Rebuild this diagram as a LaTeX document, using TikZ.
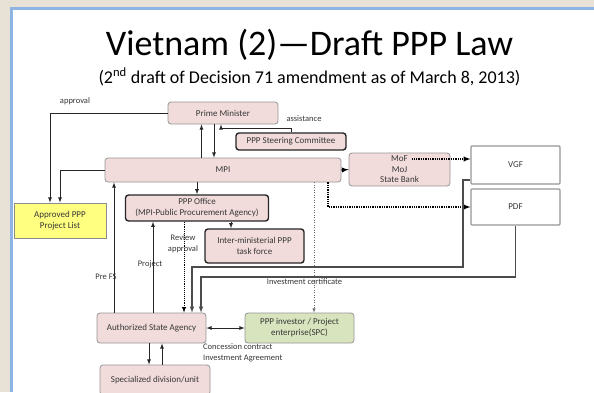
\documentclass[tikz,border=0pt]{standalone}
\usepackage{fontspec}
\setmainfont{Carlito}
\definecolor{boxpink}{RGB}{242,220,219}
\definecolor{listyellow}{RGB}{255,255,128}
\definecolor{spcgreen}{RGB}{215,228,189}
\definecolor{slideblue}{RGB}{142,180,227}
\definecolor{marble}{RGB}{232,226,214}
\definecolor{boxline}{RGB}{150,150,150}
\definecolor{txt}{RGB}{55,55,55}

\begin{document}
\begin{tikzpicture}[x=1pt, y=-1pt,
    box/.style={draw=boxline, line width=0.8pt, fill=boxpink, rounded corners=3pt, text=txt,
                font=\fontsize{9}{11}\selectfont, align=center, inner sep=0pt},
    boldbox/.style={box, draw=black!85, line width=1.4pt},
    fundbox/.style={box, fill=white, rounded corners=1pt, line width=1.2pt},
    lbl/.style={text=txt, font=\fontsize{8.5}{11}\selectfont, inner sep=0pt},
    arr/.style={->, >=latex, line width=0.8pt, black!85},
    dotarr/.style={->, >=latex, densely dotted, line width=1.3pt},
    thindot/.style={->, >=latex, dotted, black!60, line width=0.5pt},
    fundarr/.style={->, >=latex, line width=1.1pt, black!70}]
    \useasboundingbox (0,0) rectangle (594,392);
    \fill[marble] (0,0) rectangle (594,392);
    \fill[white] (10,7) rectangle (594,392);
    \draw[slideblue, line width=3pt] (11.5,392) -- (11.5,8.5) -- (594,8.5);
    % title
    \node[anchor=base] (title) at (309.5,55) {\fontsize{36}{40}\selectfont Vietnam (2)---Draft PPP Law};
    \node[anchor=base] (subtitle) at (309.5,83) {\fontsize{18}{20}\selectfont (2\textsuperscript{nd} draft of Decision 71 amendment as of March 8, 2013)};
    % boxes
    \node[box, minimum width=110pt, minimum height=22pt] (pm) at (223,113) {Prime Minister};
    \node[boldbox, minimum width=110pt, minimum height=17pt] (steer) at (291,141.5) {PPP Steering Committee};
    \node[box, minimum width=236pt, minimum height=24pt] (mpi) at (223,170) {MPI};
    \node[box, minimum width=101pt, minimum height=33pt, font=\fontsize{9}{10.5}\selectfont] (mof) at (399.5,169.5) {MoF\\MoJ\\State Bank};
    \node[fundbox, minimum width=89pt, minimum height=38pt] (vgf) at (515.5,165) {VGF};
    \node[fundbox, minimum width=89pt, minimum height=36pt] (pdf) at (515.5,207) {PDF};
    \node[box, fill=listyellow, draw=black!45, rounded corners=0pt, minimum width=92pt, minimum height=35pt] (list) at (60,220.5) {Approved PPP\\Project List};
    \node[boldbox, minimum width=143pt, minimum height=26pt] (office) at (197,208) {PPP Office\\(MPI-Public Procurement Agency)};
    \node[boldbox, minimum width=99pt, minimum height=34pt] (task) at (254.5,246) {Inter-ministerial PPP\\task force};
    \node[box, minimum width=109pt, minimum height=30pt] (asa) at (151.5,328) {Authorized State Agency};
    \node[box, fill=spcgreen, minimum width=109pt, minimum height=30pt] (spc) at (299.5,328) {PPP investor / Project\\enterprise(SPC)};
    \node[box, minimum width=110pt, minimum height=30pt] (spec) at (155,380) {Specialized division/unit};
    % approval
    \draw[arr] (pm.west) -| ([xshift=-10pt]list.north);
    \node[lbl] (approvallbl) at (75,101) {approval};
    \draw[arr] (mpi.west) -| (list.north);
    % PM and MPI
    \draw[arr] ([xshift=-21.5pt]mpi.north) -- ([xshift=-21.5pt]pm.south);
    \draw[arr] ([xshift=-9pt]pm.south) -- ([xshift=-9pt]mpi.north);
    \draw[arr] (steer.north) -- ++(0,-4) -| ([xshift=-2pt]pm.south);
    \node[lbl] (assistlbl) at (304,119) {assistance};
    % MoF, VGF, PDF
    \coordinate (moftxt) at ([shift={(12pt,10.5pt)}]mof.center);
    \draw[dotarr] (mpi.east) -- (mof.west);
    \draw[dotarr] (moftxt) -- (moftxt -| vgf.west);
    \draw[dotarr] ([xshift=105pt]mpi.south) |- (pdf.west);
    \draw[thindot] ([xshift=91pt]mpi.south) -- ([xshift=14.5pt]spc.north);
    \node[lbl] (certlbl) at (304.5,282) {Investment certificate};
    % PPP office
    \draw[arr] ([xshift=-26pt]mpi.south) -- (office.north);
    \draw[arr] ([xshift=34pt]office.south) -- ([xshift=-23.5pt]task.north);
    % authorized state agency
    \draw[arr] ([xshift=-37.5pt]asa.north) -- ([xshift=-109pt]mpi.south);
    \node[lbl] (prefslbl) at (106,277) {Pre FS};
    \draw[arr] ([xshift=1.5pt]asa.north) -- ([xshift=-44pt]office.south);
    \node[lbl] (projlbl) at (150,264) {Project};
    \draw[dotarr, line width=0.9pt] ([xshift=-13pt]office.south) -- ([xshift=32.5pt]asa.north);
    \node[lbl, align=center] (reviewlbl) at (183,243.5) {Review\\approval};
    \coordinate (vgfbend) at (463,267);
    \draw[fundarr] ([yshift=-15pt]vgf.west) -| (vgfbend) -| ([xshift=40.5pt]asa.north);
    \coordinate (pdfbend) at (515.5,277);
    \draw[fundarr] (pdf.south) -- (pdfbend) -| ([xshift=49.5pt]asa.north);
    \draw[arr, <->] (asa.east) -- (spc.west);
    \node[lbl, anchor=north west, align=left] (contractlbl) at (203,343) {Concession contract\\Investment Agreement};
    \draw[arr] ([xshift=-2.5pt]asa.south) -- ([xshift=-6pt]spec.north);
    \draw[arr] ([xshift=7pt]spec.north) -- ([xshift=10.5pt]asa.south);
\end{tikzpicture}
\end{document}
